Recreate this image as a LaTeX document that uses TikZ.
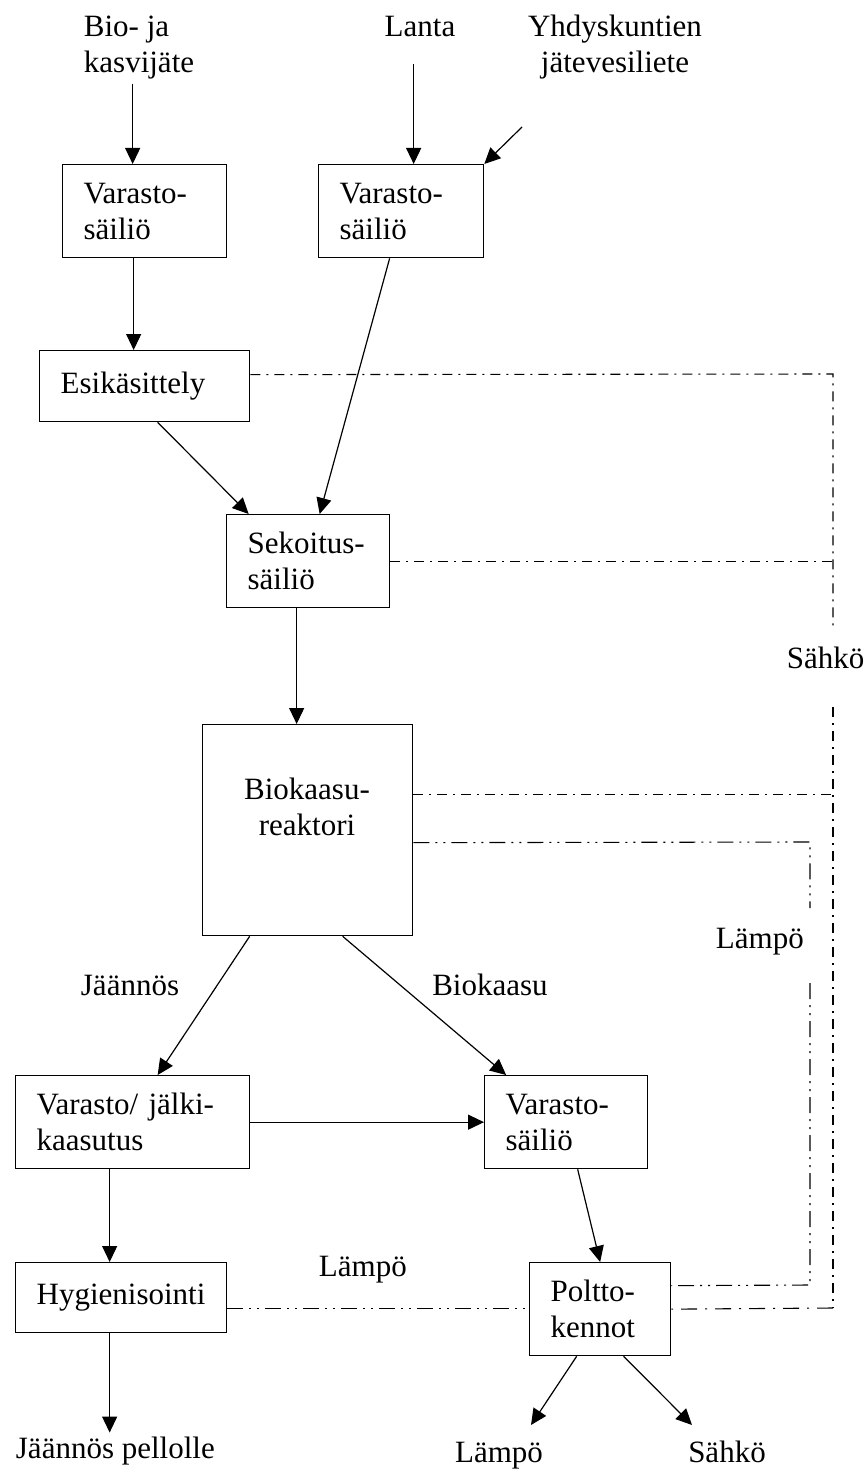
\documentclass[tikz,border=0pt]{standalone}
\usepackage{fontspec}
\setmainfont{Liberation Serif}
\usetikzlibrary{arrows.meta}
\newcommand{\isofontti}{\fontsize{31}{36}\selectfont}
\tikzset{
  laatikko/.style={draw,line width=1.3pt,anchor=north west,inner xsep=21pt,inner ysep=0pt,align=left},
  sahko/.style={line width=1.1pt,dash pattern=on 10pt off 6pt on 2pt off 6pt},
  sahkopitka/.style={line width=1.1pt,dash pattern=on 16pt off 8pt on 2pt off 8pt},
  lampo/.style={line width=1.1pt,dash pattern=on 16pt off 6pt on 2pt off 6pt on 2pt off 6pt}
}

\begin{document}
\begin{tikzpicture}[x=1pt,y=-1pt,>={Triangle[length=16pt,width=15pt]},font=\isofontti,line width=1.2pt]
\useasboundingbox (0,0) rectangle (863,1471);
\node[laatikko,text width=122pt,minimum height=93pt] (varastoA) at (62,164) {Varasto-\\säiliö};
\node[laatikko,text width=123pt,minimum height=93pt] (varastoB) at (318,164) {Varasto-\\säiliö};
\node[laatikko,text width=168pt,minimum height=71pt] (esik) at (39,350) {Esikäsittely};
\node[laatikko,text width=121pt,minimum height=93pt] (sekoitus) at (226,514) {Sekoitus-\\säiliö};
\node[laatikko,minimum width=210pt,minimum height=211pt] (reaktori) at (202,724) {};
\node[anchor=base,align=center] (reaktoriteksti) at (307,835) {Biokaasu-\\reaktori};
\node[laatikko,text width=192pt,minimum height=93pt] (jalki) at (15,1075) {Varasto/ jälki-\\kaasutus};
\node[laatikko,text width=121pt,minimum height=93pt] (varastoC) at (484,1075) {Varasto-\\säiliö};
\node[laatikko,text width=169pt,minimum height=70pt] (hyg) at (15,1262) {Hygienisointi};
\node[laatikko,text width=99pt,minimum height=93pt] (poltto) at (529,1262) {Poltto-\\kennot};

\node[anchor=base west,align=left] (bio) at (80,73) {Bio- ja\\kasvijäte};
\node[anchor=base] (lanta) at (420,37) {Lanta};
\node[anchor=base,align=center] (yhd) at (615,73) {Yhdyskuntien\\jätevesiliete};
\node[anchor=base] (jaannos) at (130,995) {Jäännös};
\node[anchor=base] (biokaasu) at (490,995) {Biokaasu};
\node[anchor=base west] (sahkoA) at (783,668) {Sähkö};
\node[anchor=base west] (lampoA) at (712,948) {Lämpö};
\node[anchor=base west] (lampoB) at (315,1276) {Lämpö};
\node[anchor=base west] (pellolle) at (12,1458) {Jäännös pellolle};
\node[anchor=base] (lampoC) at (499,1462) {Lämpö};
\node[anchor=base] (sahkoB) at (727,1462) {Sähkö};

\coordinate (yhdalku) at (522,127);
\coordinate (lampoCnuoli) at (531,1425);
\coordinate (sahkoBnuoli) at (692,1425);
\coordinate (s1) at (833,374);
\coordinate (s2) at (833,630);
\coordinate (s3) at (833,707);
\coordinate (s4) at (833,1308);
\coordinate (l1) at (810,842);
\coordinate (l2) at (810,908);
\coordinate (l3) at (810,983);
\coordinate (l4) at (810,1285);

\draw[->] ([xshift=-12pt]varastoA.north |- bio.south) -- ([xshift=-12pt]varastoA.north);
\draw[->,shorten <=23pt] ([xshift=12.5pt]varastoB.north |- lanta.south) -- ([xshift=12.5pt]varastoB.north);
\draw[->] (yhdalku) -- (varastoB.north east);
\draw[->] ([xshift=-11pt]varastoA.south) -- ([xshift=-11pt]esik.north);
\draw[->] ([xshift=13pt]esik.south) -- ([xshift=-59.5pt]sekoitus.north);
\draw[->] ([xshift=-11.5pt]varastoB.south) -- ([xshift=11.5pt]sekoitus.north);
\draw[->] ([xshift=-11.5pt]sekoitus.south) -- ([xshift=-11pt]reaktori.north);
\draw[->] ([xshift=-58pt]reaktori.south) -- ([xshift=25pt]jalki.north);
\draw[->] ([xshift=35pt]reaktori.south) -- ([xshift=-60pt]varastoC.north);
\draw[->] (jalki.east) -- (varastoC.west);
\draw[->] ([xshift=-23pt]jalki.south) -- ([xshift=-23pt]jalki.south |- hyg.north);
\draw[->] ([xshift=-11.5pt]hyg.south) -- ([xshift=-11.5pt]hyg.south |- pellolle.north);
\draw[->] ([xshift=11.5pt]varastoC.south) -- (poltto.north);
\draw[->] ([xshift=-23.5pt]poltto.south) -- (lampoCnuoli);
\draw[->] ([xshift=23.5pt]poltto.south) -- (sahkoBnuoli);

\draw[sahko] ([yshift=11.5pt]esik.east) -- (s1) -- (s2);
\draw[sahko] (s3) -- (s4);
\draw[sahkopitka] (s4) -- (poltto.east);
\draw[sahko] (sekoitus.east) -- (sekoitus.east -| s1);
\draw[sahko] ([yshift=35.5pt]reaktori.east) -- ([yshift=35.5pt]reaktori.east -| s1);
\draw[lampo] ([yshift=-12.5pt]reaktori.east) -- (l1) -- (l2);
\draw[lampo] (l3) -- (l4) -- ([yshift=23.5pt]poltto.east);
\draw[lampo] ([yshift=-11pt]hyg.east) -- ([yshift=-11pt]hyg.east -| poltto.west);
\end{tikzpicture}
\end{document}
